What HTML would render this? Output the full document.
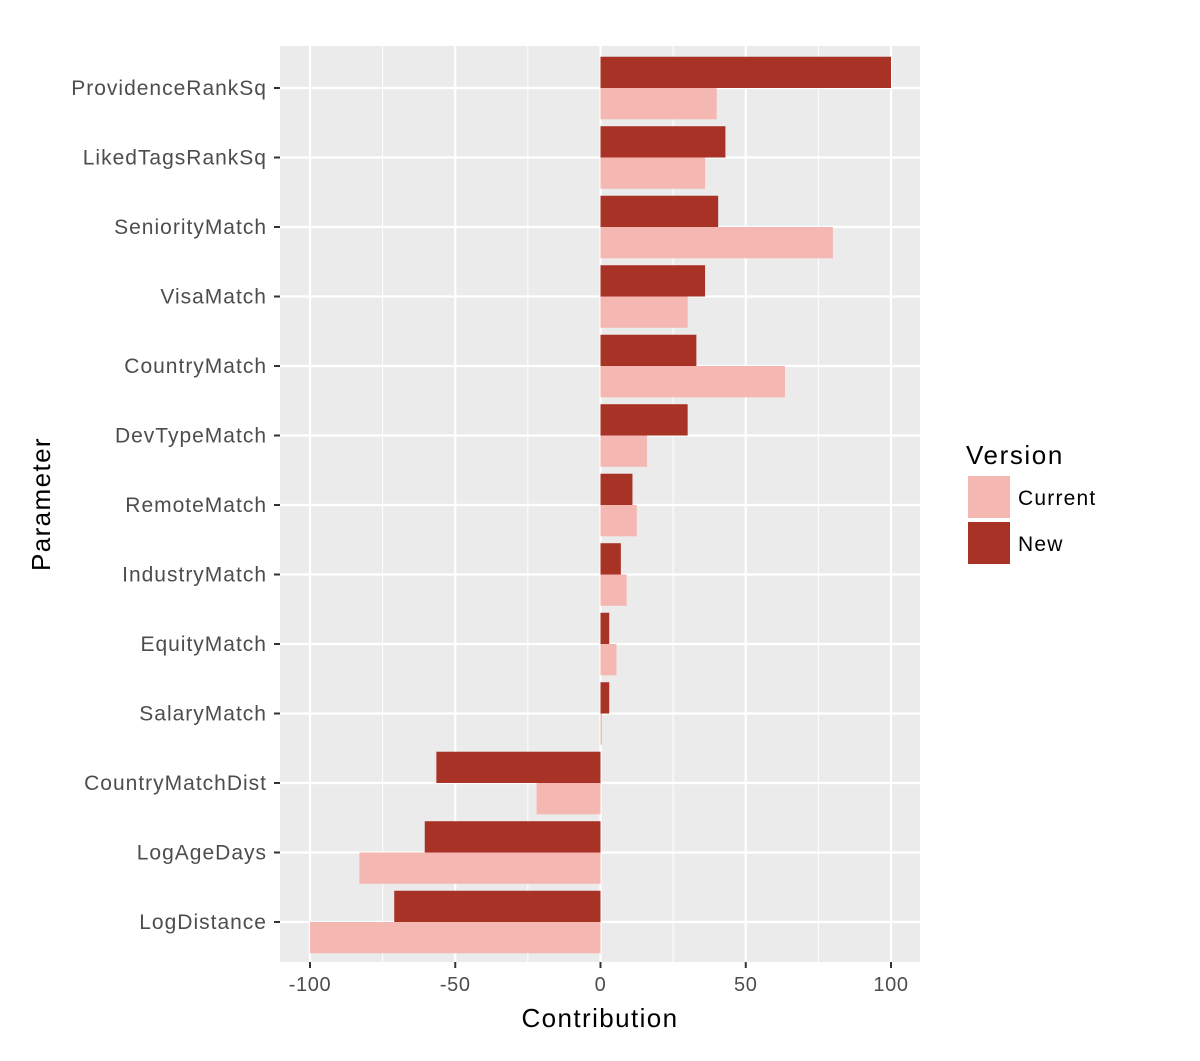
<!DOCTYPE html>
<html><head><meta charset="utf-8"><style>
body{margin:0;background:#fff;}
svg text{font-family:"Liberation Sans",sans-serif;}
</style></head><body>
<svg id="chart" width="1200" height="1056"></svg>
<script>
const categories=["ProvidenceRankSq","LikedTagsRankSq","SeniorityMatch","VisaMatch","CountryMatch","DevTypeMatch","RemoteMatch","IndustryMatch","EquityMatch","SalaryMatch","CountryMatchDist","LogAgeDays","LogDistance"];
const newValues=[100,43,40.5,36,33,30,11,7,3,3,-56.5,-60.5,-71];
const currentValues=[40,36,80,30,63.5,16,12.5,9,5.5,0.5,-22,-83,-100];
const xTicks=[-100,-50,0,50,100];
const NS="http://www.w3.org/2000/svg";
const svg=document.getElementById('chart');
const L=280,R=920,T=46,B=962;
const x0=600.5,ppu=2.905;
function xs(v){return x0+v*ppu;}
const firstY=88,lastY=922;
const step=(lastY-firstY)/(categories.length-1);
function yc(i){return firstY+step*i;}
function el(tag,attrs,parent){const e=document.createElementNS(NS,tag);for(const k in attrs)e.setAttribute(k,attrs[k]);(parent||svg).appendChild(e);return e;}
const bg=el('rect',{x:L,y:T,width:R-L,height:B-T,fill:'#ebebeb'});


for(let i=0;i<xTicks.length-1;i++){const m=(xTicks[i]+xTicks[i+1])/2;const g=el('line',{x1:xs(m),x2:xs(m),y1:T,y2:B,stroke:'#fff','stroke-width':1});

}
xTicks.forEach(t=>{const g=el('line',{x1:xs(t),x2:xs(t),y1:T,y2:B,stroke:'#fff','stroke-width':2.2});


const tk=el('line',{x1:xs(t),x2:xs(t),y1:B,y2:B+6,stroke:'#333','stroke-width':2});


const tx=el('text',{x:xs(t),y:B+29,'text-anchor':'middle','font-size':20,'letter-spacing':0.6,fill:'#4d4d4d'});tx.textContent=t;

});
categories.forEach((c,i)=>{const y=yc(i);
const g=el('line',{x1:L,x2:R,y1:y,y2:y,stroke:'#fff','stroke-width':2.2});


const tk=el('line',{x1:L-6,x2:L,y1:y,y2:y,stroke:'#333','stroke-width':2});


const tx=el('text',{x:L-13,y:y+7,'text-anchor':'end','font-size':21,'letter-spacing':1,fill:'#4d4d4d'});tx.textContent=c;


const bw=step*0.45;
const nv=newValues[i],cv=currentValues[i];
const bn=el('rect',{x:Math.min(xs(0),xs(nv)),y:y-bw,width:Math.abs(xs(nv)-xs(0)),height:bw,fill:'#a93226'});


const bc=el('rect',{x:Math.min(xs(0),xs(cv)),y:y,width:Math.abs(xs(cv)-xs(0)),height:bw,fill:'#f5b7b1'});


});
const xt=el('text',{x:600,y:1027,'text-anchor':'middle','font-size':26,'letter-spacing':1.4,fill:'#000'});xt.textContent='Contribution';


const yt=el('text',{x:0,y:0,'text-anchor':'middle','font-size':26,'letter-spacing':1.4,fill:'#000',transform:'translate(50,504) rotate(-90)'});yt.textContent='Parameter';


const lt=el('text',{x:966,y:464,'font-size':26,'letter-spacing':1.6,fill:'#000'});lt.textContent='Version';


const lk1=el('rect',{x:968,y:476,width:42,height:42,fill:'#f5b7b1'});


const lk2=el('rect',{x:968,y:522,width:42,height:42,fill:'#a93226'});


const l1=el('text',{x:1018,y:505,'font-size':21,'letter-spacing':1.2,fill:'#000'});l1.textContent='Current';


const l2=el('text',{x:1018,y:551,'font-size':21,'letter-spacing':1.2,fill:'#000'});l2.textContent='New';


</script>
</body></html>
